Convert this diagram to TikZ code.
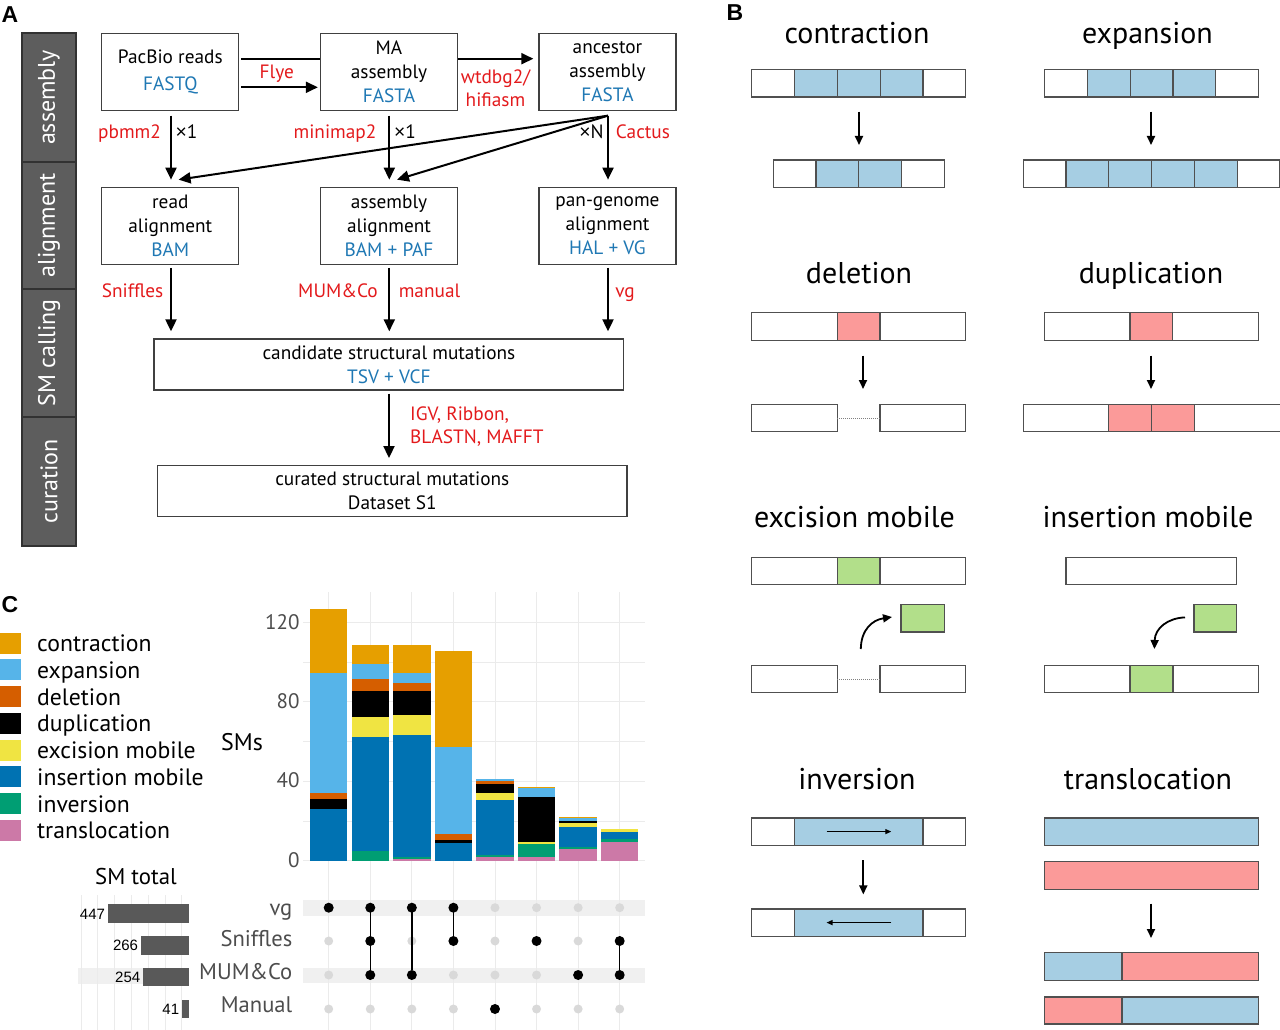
\documentclass[tikz,border=0pt]{standalone}
\usepackage{fontspec}
\setmainfont{PT Sans}
\newfontfamily\arialf{Liberation Sans}
\usetikzlibrary{arrows.meta,calc,backgrounds}
\definecolor{cred}{RGB}{227,26,28}
\definecolor{cblue}{RGB}{31,120,180}
\definecolor{boxc}{RGB}{64,64,64}
\definecolor{sideg}{RGB}{93,93,93}
\definecolor{sided}{RGB}{50,50,50}
\definecolor{cb}{RGB}{166,206,227}
\definecolor{cr}{RGB}{251,154,153}
\definecolor{cg}{RGB}{178,223,138}
\definecolor{cellline}{RGB}{80,80,80}
\definecolor{ccon}{HTML}{E69F00}
\definecolor{cexp}{HTML}{56B4E9}
\definecolor{cdel}{HTML}{D55E00}
\definecolor{cdup}{HTML}{000000}
\definecolor{cexc}{HTML}{F0E442}
\definecolor{cins}{HTML}{0072B2}
\definecolor{cinv}{HTML}{009E73}
\definecolor{ctra}{HTML}{CC79A7}
\definecolor{gridc}{RGB}{235,235,235}
\definecolor{bandc}{RGB}{240,240,240}
\definecolor{axtxt}{RGB}{77,77,77}
\definecolor{barg}{RGB}{89,89,89}
\newcommand\fA{\fontsize{19.3}{24}\selectfont}
\newcommand\fS{\fontsize{24}{28}\selectfont}
\newcommand\fB{\fontsize{30}{34}\selectfont}
\newcommand\fC{\fontsize{23.7}{26}\selectfont}
\newcommand\fL{\arialf\bfseries\fontsize{23}{26}\selectfont}
\newcommand\xx{{\arialf ×}}
\newcommand\barseg[4]{\fill[#4] ({328.7+41.57*(#1-1)-18.7},{860.7-1.986*#2}) rectangle ({328.7+41.57*(#1-1)+18.7},{860.7-1.986*#3});}
\begin{document}
\begin{tikzpicture}[x=1pt,y=-1pt,
  box/.style={draw=boxc, line width=1.3pt, fill=white, align=center, inner sep=0pt, font=\fA, minimum width=137pt},
  arr/.style={line width=2pt, -{Triangle[length=12pt,width=11pt]}},
  barr/.style={line width=1.8pt, -{Triangle[length=9pt,width=8pt]}},
  iarr/.style={line width=1.2pt, -{Triangle[length=6pt,width=5pt]}},
  lbl/.style={font=\fA, inner sep=0pt, anchor=base},
  rlbl/.style={lbl, text=cred},
  cell/.style={draw=cellline, line width=1.2pt},
  ttl/.style={font=\fB, inner sep=0pt, anchor=base},
  dotl/.style={draw=gray, line width=0.8pt, dash pattern=on 1pt off 1pt},
  dotoff/.style={circle, fill=black!15, minimum size=9pt, inner sep=0pt},
  doton/.style={circle, fill=black, minimum size=10pt, inner sep=0pt},
  rowl/.style={font=\fontsize{22.6}{24}\selectfont, text=axtxt, anchor=base east, inner sep=0pt},
  tick/.style={font=\fontsize{21}{24}\selectfont, text=axtxt, anchor=east, inner sep=0pt},
  num/.style={font=\arialf\fontsize{15}{17}\selectfont, anchor=east, inner sep=0pt}
]
\useasboundingbox (0,0) rectangle (1280,1030);

% ================= Panel A =================
\node[font=\fL, inner sep=0pt] (labA) at (10,15) {A};
\foreach \a/\b/\t [count=\i] in {33/162/assembly,162/289/alignment,289/417/SM calling,417/546/curation}{
  \filldraw[fill=sideg, draw=sided, line width=1.5pt] (22,\a) rectangle (76,\b);
  \node[rotate=90, text=white, font=\fS, inner sep=0pt] (side\i) at (49,{(\a+\b)/2}) {\t};
}
\node[box, minimum height=77.4pt] (pacbio) at (170.3,72) {PacBio reads\\[3pt]\textcolor{cblue}{FASTQ}};
\node[box, minimum height=77.4pt] (ma) at (389,72) {MA\\assembly\\\textcolor{cblue}{FASTA}};
\node[box, minimum height=77.4pt] (anc) at (607.5,72) {ancestor\\assembly\\\textcolor{cblue}{FASTA}};
\node[box, minimum height=77pt] (readal) at (170.3,225.8) {read\\alignment\\\textcolor{cblue}{BAM}};
\node[box, minimum height=77pt] (asmal) at (389,225.8) {assembly\\alignment\\\textcolor{cblue}{BAM + PAF}};
\node[box, minimum height=77pt] (pan) at (607.5,225.8) {pan-genome\\alignment\\\textcolor{cblue}{HAL + VG}};
\node[box, minimum width=469.7pt, minimum height=51pt] (cand) at (388.9,364.5) {candidate structural mutations\\\textcolor{cblue}{TSV + VCF}};
\node[box, minimum width=469.4pt, minimum height=51pt] (cur) at (392.3,491.2) {curated structural mutations\\Dataset S1};

\begin{scope}[on background layer]
  \draw[arr] ($(pacbio.east)+(2,-13.3)$) -- ($(anc.west)+(-5,-13.3)$);
  \draw[arr] ($(pacbio.east)+(2,15.3)$) -- ($(ma.west)+(-2,15.3)$);
\end{scope}
\draw[arr] ($(pacbio.south)+(0.7,4.3)$) -- ($(readal.north)+(0.7,-7)$);
\draw[arr] ($(ma.south)+(0.3,4.3)$) -- ($(asmal.north)+(0.3,-7)$);
\coordinate (ancs) at ($(anc.south)+(0.5,4.3)$);
\draw[arr] (ancs) -- ($(pan.north)+(0.5,-7)$);
\draw[arr] (ancs) -- ($(readal.north)+(8.3,-7)$);
\draw[arr] (ancs) -- ($(asmal.north)+(8,-7)$);
\draw[arr] ($(readal.south)+(0.7,3)$) -- ($(readal.south |- cand.north)+(0.7,-7)$);
\draw[arr] ($(asmal.south)+(0.3,3)$) -- ($(asmal.south |- cand.north)+(0.3,-7)$);
\draw[arr] ($(pan.south)+(0.5,3)$) -- ($(pan.south |- cand.north)+(0.5,-7)$);
\draw[arr] ($(cand.south)+(0.1,3)$) -- ($(cand.south |- cur.north)+(0.1,-7)$);

\node[rlbl] (flye) at (276.8,78.7) {Flye};
\node[rlbl] (wtd) at (495.5,83.3) {wtdbg2/};
\node[rlbl] (hifi) at (495.5,106.7) {hifiasm};
\node[rlbl] (pbmm) at (129.5,138.5) {pbmm2};
\node[lbl] (x1a) at (186.6,138.5) {\xx1};
\node[rlbl] (mini) at (335,138.5) {minimap2};
\node[lbl] (x1b) at (405,138.5) {\xx1};
\node[lbl] (xN) at (591.5,138.5) {\xx N};
\node[rlbl] (cact) at (643,138.5) {Cactus};
\node[rlbl] (snif) at (132.6,297.5) {Sniffles};
\node[rlbl] (mum) at (338,297.5) {MUM\&Co};
\node[rlbl] (man) at (429.5,297.5) {manual};
\node[rlbl] (vgl) at (625,297.5) {vg};
\node[rlbl, anchor=base west] (igv) at (410,420) {IGV, Ribbon,};
\node[rlbl, anchor=base west] (blast) at (410,443.3) {BLASTN, MAFFT};

% ================= Panel B =================
\node[font=\fL, inner sep=0pt] (labB) at (735,13) {B};
% contraction
\node[ttl] (tcon) at (857,43.3) {contraction};
\foreach \c [count=\i from 0] in {white,cb,cb,cb,white}
  \filldraw[cell, fill=\c] ({751.7+42.8*\i},69.3) rectangle ++(42.8,27.7);
\foreach \c [count=\i from 0] in {white,cb,cb,white}
  \filldraw[cell, fill=\c] ({773.1+42.8*\i},160) rectangle ++(42.8,27.7);
\draw[barr] (859,111.7) -- (859,145);
% expansion
\node[ttl] (texp) at (1147.4,43.3) {expansion};
\foreach \c [count=\i from 0] in {white,cb,cb,cb,white}
  \filldraw[cell, fill=\c] ({1044.6+42.8*\i},69.3) rectangle ++(42.8,27.7);
\foreach \c [count=\i from 0] in {white,cb,cb,cb,cb,white}
  \filldraw[cell, fill=\c] ({1023.2+42.8*\i},160) rectangle ++(42.8,27.7);
\draw[barr] (1151,111.7) -- (1151,145);
% deletion
\node[ttl] (tdel) at (859,283) {deletion};
\filldraw[cell, fill=white] (751.7,312.7) rectangle (965.7,340.7);
\filldraw[cell, fill=cr] (837.3,312.7) rectangle (880,340.7);
\draw[barr] (863,355.7) -- (863,389);
\filldraw[cell, fill=white] (751.7,404.3) rectangle (837.3,431.7);
\filldraw[cell, fill=white] (880,404.3) rectangle (965.7,431.7);
\draw[dotl] (837.3,418) -- (880,418);
% duplication
\node[ttl] (tdup) at (1151,283) {duplication};
\filldraw[cell, fill=white] (1044.6,312.7) rectangle (1258.2,340.7);
\filldraw[cell, fill=cr] (1130,312.7) rectangle (1172.7,340.7);
\draw[barr] (1151,355.7) -- (1151,389);
\filldraw[cell, fill=white] (1023.2,404.3) rectangle (1280.2,431.7);
\filldraw[cell, fill=cr] (1108.8,404.3) rectangle (1151.6,431.7);
\filldraw[cell, fill=cr] (1151.6,404.3) rectangle (1194.4,431.7);
% excision mobile
\node[ttl] (texc) at (854.5,527) {excision mobile};
\filldraw[cell, fill=white] (751.7,557.4) rectangle (965.7,584.7);
\filldraw[cell, fill=cg] (837.3,557.4) rectangle (880,584.7);
\filldraw[cell, fill=cg] (901,604.7) rectangle (944.3,632);
\draw[barr] (860.8,649) .. controls (861,630) and (872,620) .. (892,617);
\filldraw[cell, fill=white] (751.7,665.4) rectangle (837.3,692.6);
\filldraw[cell, fill=white] (880,665.4) rectangle (965.7,692.6);
\draw[dotl] (837.3,679) -- (880,679);
% insertion mobile
\node[ttl] (tins) at (1148,527) {insertion mobile};
\filldraw[cell, fill=white] (1066,557.4) rectangle (1236.8,584.7);
\filldraw[cell, fill=cg] (1194,604.7) rectangle (1236.8,632);
\draw[barr] (1185,617.4) .. controls (1168,618) and (1155,628) .. (1154.4,649);
\filldraw[cell, fill=white] (1044.6,665.4) rectangle (1258.2,692.6);
\filldraw[cell, fill=cg] (1130,665.4) rectangle (1173,692.6);
% inversion
\node[ttl] (tinv) at (857,789) {inversion};
\filldraw[cell, fill=white] (751.7,818) rectangle (965.7,845.3);
\filldraw[cell, fill=cb] (794.5,818) rectangle (922.9,845.3);
\draw[iarr] (826.5,831.6) -- (891.3,831.6);
\draw[barr] (863.3,860) -- (863.3,894.4);
\filldraw[cell, fill=white] (751.7,909) rectangle (965.7,936.2);
\filldraw[cell, fill=cb] (794.5,909) rectangle (922.9,936.2);
\draw[iarr] (891.3,922.6) -- (826.5,922.6);
% translocation
\node[ttl] (ttra) at (1148,789) {translocation};
\filldraw[cell, fill=cb] (1044.6,818) rectangle (1258.2,845.3);
\filldraw[cell, fill=cr] (1044.6,861.7) rectangle (1258.2,889.7);
\draw[barr] (1151,903.5) -- (1151,938);
\filldraw[cell, fill=cb] (1044.6,952.5) rectangle (1122,980.5);
\filldraw[cell, fill=cr] (1122,952.5) rectangle (1258.2,980.5);
\filldraw[cell, fill=cr] (1044.6,997) rectangle (1122,1024);
\filldraw[cell, fill=cb] (1122,997) rectangle (1258.2,1024);

% ================= Panel C =================
\node[font=\fL, inner sep=0pt] (labC) at (10,605) {C};
\foreach \t/\c [count=\i from 0] in {contraction/ccon,expansion/cexp,deletion/cdel,duplication/cdup,excision mobile/cexc,insertion mobile/cins,inversion/cinv,translocation/ctra}{
  \fill[\c] (0,{632.7+26.75*\i}) rectangle ++(21,21);
  \node[anchor=base west, font=\fC, inner sep=0pt] (leg\i) at (37,{651.5+26.75*\i}) {\t};
}
% grid
\foreach \v in {0,20,...,120}
  \draw[gridc, line width=0.9pt] (303,{860.7-1.986*\v}) -- (645,{860.7-1.986*\v});
% matrix bands
\fill[bandc] (303,900) rectangle (645,915.5);
\fill[bandc] (303,967.5) rectangle (645,983);
\fill[bandc] (78,967.7) rectangle (189.3,984.3);
\foreach \k in {1,...,8}
  \draw[gridc, line width=0.9pt] ({328.7+41.57*(\k-1)},592) -- ({328.7+41.57*(\k-1)},1030);
\foreach \k in {0,...,6}
  \draw[gridc, line width=0.8pt] ({181.7-16.8*\k},895) -- ({181.7-16.8*\k},1030);
% bars: 1
\barseg{1}{0}{26.2}{cins}\barseg{1}{26.2}{31.2}{cdup}\barseg{1}{31.2}{34.2}{cdel}\barseg{1}{34.2}{94.6}{cexp}\barseg{1}{94.6}{126.5}{ccon}
% 2
\barseg{2}{0}{5}{cinv}\barseg{2}{5}{62.4}{cins}\barseg{2}{62.4}{72.3}{cexc}\barseg{2}{72.3}{85.6}{cdup}\barseg{2}{85.6}{91.4}{cdel}\barseg{2}{91.4}{98.8}{cexp}\barseg{2}{98.8}{108.6}{ccon}
% 3
\barseg{3}{0}{1}{ctra}\barseg{3}{1}{2}{cinv}\barseg{3}{2}{63.3}{cins}\barseg{3}{63.3}{73.3}{cexc}\barseg{3}{73.3}{85.6}{cdup}\barseg{3}{85.6}{89.6}{cdel}\barseg{3}{89.6}{94.3}{cexp}\barseg{3}{94.3}{108.6}{ccon}
% 4
\barseg{4}{0}{9.1}{cins}\barseg{4}{9.1}{10.4}{cdup}\barseg{4}{10.4}{13.3}{cdel}\barseg{4}{13.3}{57.4}{cexp}\barseg{4}{57.4}{105.5}{ccon}
% 5
\barseg{5}{0}{2}{ctra}\barseg{5}{2}{2.9}{cinv}\barseg{5}{2.9}{30.4}{cins}\barseg{5}{30.4}{34.2}{cexc}\barseg{5}{34.2}{38.4}{cdup}\barseg{5}{38.4}{40.3}{cdel}\barseg{5}{40.3}{41.1}{cexp}
% 6
\barseg{6}{0}{2}{ctra}\barseg{6}{2}{8.4}{cinv}\barseg{6}{8.4}{9.2}{cexc}\barseg{6}{9.2}{32.2}{cdup}\barseg{6}{32.2}{36.4}{cexp}\barseg{6}{36.4}{37.2}{ccon}
% 7
\barseg{7}{0}{6}{ctra}\barseg{7}{6}{6.7}{cinv}\barseg{7}{6.7}{17.1}{cins}\barseg{7}{17.1}{19}{cexc}\barseg{7}{19}{20.1}{cdup}\barseg{7}{20.1}{21.3}{cexp}\barseg{7}{21.3}{22.1}{ccon}
% 8
\barseg{8}{0}{9.2}{ctra}\barseg{8}{9.2}{11.1}{cinv}\barseg{8}{11.1}{14.3}{cins}\barseg{8}{14.3}{16.1}{cexc}
% axis labels
\node[tick] (t120) at (299.7,621.7) {120};
\node[tick] (t80) at (299.7,701) {80};
\node[tick] (t40) at (299.7,780.5) {40};
\node[tick] (t0) at (299.7,860) {0};
\node[font=\fontsize{24}{26}\selectfont, inner sep=0pt] (sms) at (242,741.7) {SMs};
% set size bars
\node[font=\fontsize{22.8}{24}\selectfont, inner sep=0pt] (smt) at (136,876.7) {SM total};
\foreach \v/\y/\n in {447/913.5/a,266/945.3/b,254/976.8/c,41/1009.2/d}{
  \fill[barg] ({189.3-0.1826*\v},{\y-9.2}) rectangle (189.3,{\y+9.2});
  \node[num] (n\n) at ({189.3-0.1826*\v-2.5},{\y+0.5}) {\v};
}
% row labels
\node[rowl] (rvg) at (292.5,915) {vg};
\node[rowl] (rsn) at (292.5,946.5) {Sniffles};
\node[rowl] (rmu) at (292.5,979.5) {MUM\&Co};
\node[rowl] (rma) at (292.5,1012.5) {Manual};
% dots: rows 1 vg, 2 Sniffles, 3 MUM&Co, 4 Manual
\foreach \k/\on in {1/{1},2/{1,2,3},3/{1,3},4/{1,2},5/{4},6/{2},7/{3},8/{2,3}}{
  \foreach \r/\ry in {1/907.7,2/941,3/975,4/1009}{
    \node[dotoff] (d\k-\r) at ({328.7+41.57*(\k-1)},\ry) {};
  }
  \foreach \r in \on{
    \node[doton] at (d\k-\r) {};
  }
}
\draw[line width=1.5pt] (d2-1) -- (d2-3);
\draw[line width=1.5pt] (d3-1) -- (d3-3);
\draw[line width=1.5pt] (d4-1) -- (d4-2);
\draw[line width=1.5pt] (d8-2) -- (d8-3);
\end{tikzpicture}
\end{document}
